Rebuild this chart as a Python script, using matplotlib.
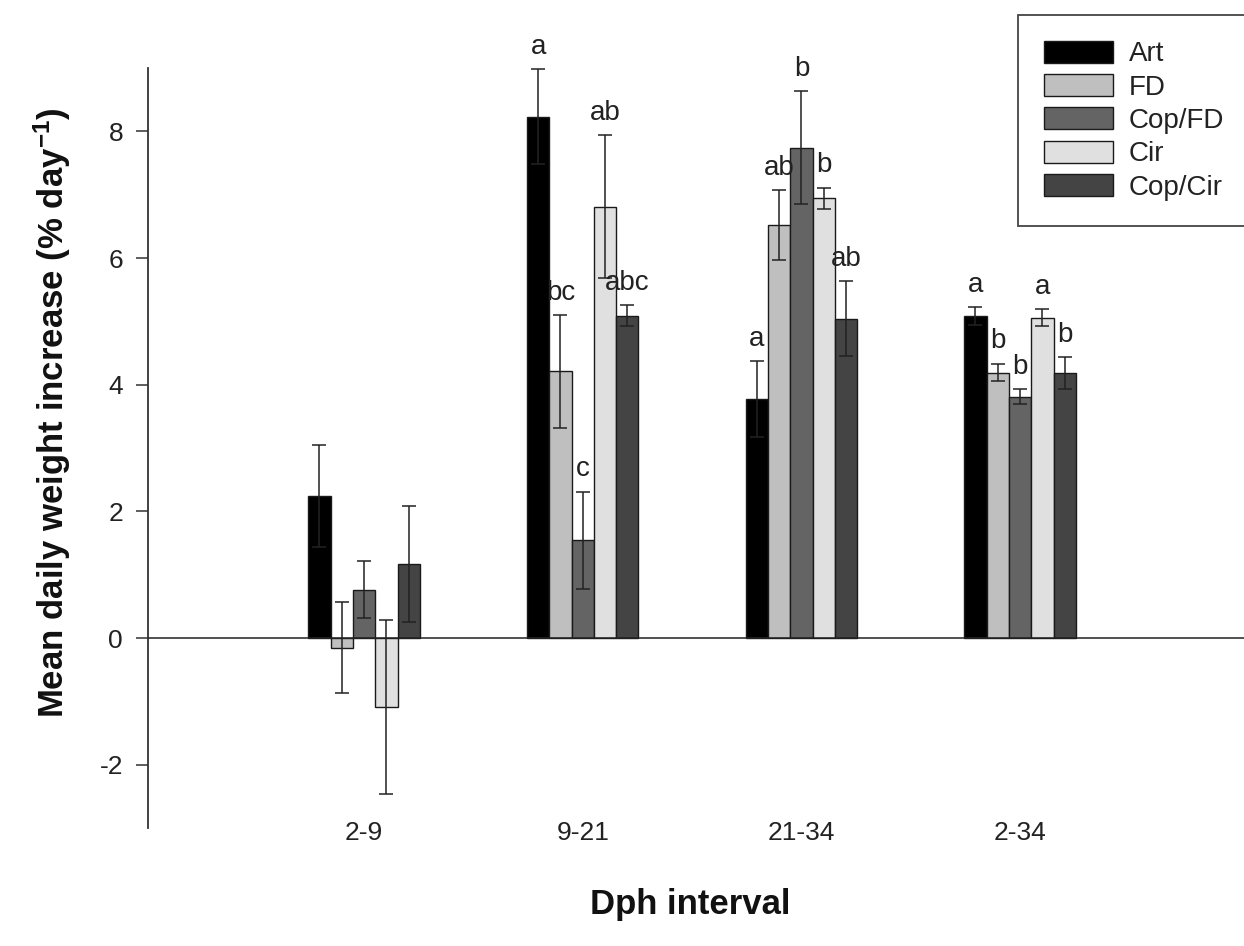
import matplotlib
matplotlib.use("Agg")
import matplotlib.pyplot as plt
import numpy as np

plt.rcParams['font.family'] = ['Liberation Sans', 'DejaVu Sans']
plt.rcParams['axes.unicode_minus'] = False
plt.rcParams['mathtext.fontset'] = 'custom'
plt.rcParams['mathtext.rm'] = 'Liberation Sans:bold'
plt.rcParams['mathtext.it'] = 'Liberation Sans:bold'
plt.rcParams['mathtext.bf'] = 'Liberation Sans:bold'

# ---- data ----
categories = ['2-9', '9-21', '21-34', '2-34']
series_names = ['Art', 'FD', 'Cop/FD', 'Cir', 'Cop/Cir']

art = [2.24, 8.23, 3.77, 5.08]
art_err = [0.80, 0.75, 0.60, 0.14]
fd = [-0.15, 4.21, 6.52, 4.19]
fd_err = [0.72, 0.89, 0.55, 0.14]
copfd = [0.76, 1.54, 7.74, 3.81]
copfd_err = [0.45, 0.77, 0.89, 0.12]
cir = [-1.09, 6.81, 6.94, 5.06]
cir_err = [1.38, 1.13, 0.17, 0.13]
copcir = [1.17, 5.09, 5.04, 4.18]
copcir_err = [0.92, 0.17, 0.59, 0.25]

art_letters = ['', 'a', 'a', 'a']
fd_letters = ['', 'bc', 'ab', 'b']
copfd_letters = ['', 'c', 'b', 'b']
cir_letters = ['', 'ab', 'b', 'a']
copcir_letters = ['', 'abc', 'ab', 'b']

yticks = [-2, 0, 2, 4, 6, 8]

# ---- styles ----
colors = ['#000000', '#bfbfbf', '#646464', '#e0e0e0', '#444444']
values = [art, fd, copfd, cir, copcir]
errors = [art_err, fd_err, copfd_err, cir_err, copcir_err]
letters = [art_letters, fd_letters, copfd_letters, cir_letters, copcir_letters]

W, H = 1244, 946
fig = plt.figure(figsize=(W / 100, H / 100), dpi=100)
ax = fig.add_axes([148 / W, 1 - 828 / H, (W - 148) / W, (828 - 68) / H])

x = np.arange(1, len(categories) + 1)
bw = 0.102
txtc = '#222222'
for i, (vals, errs, labs, c, name) in enumerate(zip(values, errors, letters, colors, series_names)):
    xpos = x + (i - 2) * bw
    ax.bar(xpos, vals, width=bw, color=c, edgecolor='#1a1a1a', linewidth=1.0,
           label=name, zorder=2)
    ax.errorbar(xpos, vals, yerr=errs, fmt='none', ecolor='#222222',
                elinewidth=1.1, capsize=5, capthick=1.1, zorder=3)
    for xp, v, e, lab in zip(xpos, vals, errs, labs):
        if lab:
            ax.annotate(lab, (xp, v + e), xytext=(0, 11), textcoords='offset points',
                        ha='center', va='baseline', fontsize=20, color=txtc)

ax.axhline(0, color='#222222', lw=1.1, zorder=4)

ax.set_xlim(0.012, 5.024)
ax.set_ylim(-3, 9)
ax.set_yticks(yticks)
ax.set_xticks(x)
ax.set_xticklabels(categories)
ax.tick_params(axis='x', length=0, pad=-5, labelsize=19, labelcolor=txtc)
ax.tick_params(axis='y', direction='out', length=9, width=1.1, color='#333333',
               labelsize=19, labelcolor=txtc, pad=9)
for s in ['top', 'right', 'bottom']:
    ax.spines[s].set_visible(False)
ax.spines['left'].set_color('#333333')
ax.spines['left'].set_linewidth(1.3)

ax.set_ylabel('Mean daily weight increase (% day$^{-1}$)', fontsize=25,
              fontweight='bold', color='#111111')
ax.yaxis.set_label_coords(-0.087, 0.547)
ax.yaxis.label.set_va('center')
ax.set_xlabel('Dph interval', fontsize=25, fontweight='bold', color='#111111')
ax.xaxis.set_label_coords(0.495, -0.101)
ax.xaxis.label.set_va('center')

leg = fig.legend(loc='upper left', bbox_to_anchor=(1018 / W, 1 - 15 / H),
                 bbox_transform=fig.transFigure, borderaxespad=0,
                 fontsize=20, frameon=True, fancybox=False, framealpha=1,
                 edgecolor='#444444', handlelength=2.5, handleheight=0.85,
                 handletextpad=0.58, labelspacing=0.24, borderpad=0.92)
leg.get_frame().set_linewidth(1.3)
for t in leg.get_texts():
    t.set_color(txtc)

fig.savefig('out.png', dpi=100)
